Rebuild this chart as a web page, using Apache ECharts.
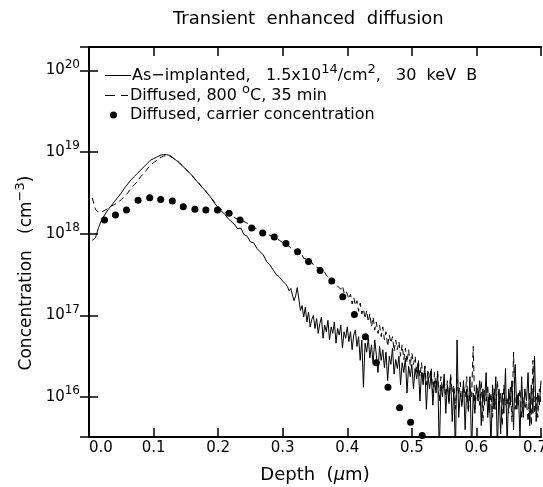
<!DOCTYPE html>
<html>
<head>
<meta charset="utf-8">
<script src="https://cdn.jsdelivr.net/npm/echarts@6/dist/echarts.min.js"></script>
<style>
    html, body { margin: 0; padding: 0; background: #fff; }
    #tedChart { width: 543px; height: 487px; }
</style>
</head>
<body>
<div id="tedChart"></div>
<script>
// depth grid (um) shared by the two SIMS profiles, finer where the tail gets noisy
var depth = [
    0.005, 0.010, 0.015, 0.020, 0.025, 0.030, 0.035, 0.040, 0.045, 0.050,
    0.055, 0.060, 0.065, 0.070, 0.075, 0.080, 0.085, 0.090, 0.095, 0.100,
    0.105, 0.110, 0.115, 0.120, 0.125, 0.130, 0.135, 0.140, 0.145, 0.150,
    0.155, 0.160, 0.165, 0.170, 0.175, 0.180, 0.185, 0.190, 0.195, 0.200,
    0.205, 0.210, 0.215, 0.220, 0.225, 0.230, 0.235, 0.240, 0.245, 0.250,
    0.255, 0.260, 0.265, 0.270, 0.275, 0.280, 0.285, 0.290, 0.295, 0.300,
    0.3025, 0.3050, 0.3075, 0.3100, 0.3125, 0.3150, 0.3175, 0.3200, 0.3225, 0.3250,
    0.3275, 0.3300, 0.3325, 0.3350, 0.3375, 0.3400, 0.3425, 0.3450, 0.3475, 0.3500,
    0.3525, 0.3550, 0.3575, 0.3600, 0.3625, 0.3650, 0.3675, 0.3700, 0.3725, 0.3750,
    0.3775, 0.3800, 0.3825, 0.3850, 0.3875, 0.3900, 0.3925, 0.3950, 0.3975, 0.4000,
    0.4025, 0.4050, 0.4075, 0.4100, 0.4125, 0.4150, 0.4175, 0.4200, 0.4225, 0.4250,
    0.4275, 0.4300, 0.4325, 0.4350, 0.4375, 0.4400, 0.4425, 0.4450, 0.4475, 0.4500,
    0.4525, 0.4550, 0.4575, 0.4600, 0.4625, 0.4650, 0.4675, 0.4700, 0.4725, 0.4750,
    0.4775, 0.4800, 0.4825, 0.4850, 0.4875, 0.4900, 0.4925, 0.4950, 0.4975, 0.5000,
    0.5025, 0.5050, 0.5075, 0.5100, 0.5125, 0.5150, 0.5175, 0.5200, 0.5225, 0.5250,
    0.5275, 0.5300, 0.5325, 0.5350, 0.5375, 0.5400, 0.5425, 0.5450, 0.5475, 0.5500,
    0.5525, 0.5550, 0.5575, 0.5600, 0.5625, 0.5650, 0.5675, 0.5700, 0.5725, 0.5750,
    0.5775, 0.5800, 0.5825, 0.5850, 0.5875, 0.5900, 0.5925, 0.5950, 0.5975, 0.6000,
    0.6025, 0.6050, 0.6075, 0.6100, 0.6125, 0.6150, 0.6175, 0.6200, 0.6225, 0.6250,
    0.6275, 0.6300, 0.6325, 0.6350, 0.6375, 0.6400, 0.6425, 0.6450, 0.6475, 0.6500,
    0.6525, 0.6550, 0.6575, 0.6600, 0.6625, 0.6650, 0.6675, 0.6700, 0.6725, 0.6750,
    0.6775, 0.6800, 0.6825, 0.6850, 0.6875, 0.6900, 0.6925, 0.6950, 0.6975, 0.7000
];

// log10 of concentration, as-implanted (solid)
var implantLog = [
    17.92, 17.95, 18.08, 18.18, 18.24, 18.30, 18.35, 18.40, 18.45, 18.50,
    18.56, 18.61, 18.66, 18.70, 18.74, 18.78, 18.82, 18.86, 18.90, 18.92,
    18.94, 18.96, 18.97, 18.97, 18.96, 18.93, 18.90, 18.87, 18.83, 18.79,
    18.75, 18.71, 18.66, 18.62, 18.57, 18.53, 18.48, 18.43, 18.37, 18.32,
    18.28, 18.24, 18.19, 18.15, 18.12, 18.06, 18.07, 17.99, 17.97, 17.90,
    17.89, 17.82, 17.78, 17.74, 17.66, 17.62, 17.56, 17.50, 17.47, 17.42,
    17.40, 17.38, 17.35, 17.30, 17.33, 17.25, 17.18, 17.24, 17.34, 17.20,
    17.06, 17.12, 16.98, 17.10, 16.92, 17.04, 16.86, 16.95, 17.00, 16.84,
    16.96, 16.78, 16.90, 16.98, 16.72, 16.88, 16.80, 16.94, 16.70, 16.86,
    16.78, 16.92, 16.66, 16.84, 16.76, 16.88, 16.60, 16.80, 16.72, 16.86,
    16.68, 16.80, 16.58, 16.76, 16.82, 16.62, 16.74, 16.45, 16.70, 16.12,
    16.66, 16.55, 16.72, 16.48, 16.64, 16.40, 16.70, 16.52, 16.30, 16.62,
    16.45, 16.58, 16.36, 16.55, 16.20, 16.50, 16.40, 16.60, 16.28, 16.46,
    16.35, 16.50, 16.15, 16.42, 16.30, 16.48, 16.05, 16.38, 16.25, 16.40,
    16.10, 16.35, 16.22, 16.40, 15.95, 16.30, 16.15, 16.38, 15.85, 16.25,
    16.10, 16.30, 15.90, 16.20, 16.05, 16.32, 15.30, 16.15, 16.00, 16.28,
    15.80, 16.15, 15.95, 16.25, 15.70, 16.10, 15.30, 16.70, 15.75, 16.05,
    15.90, 16.20, 15.60, 16.10, 15.85, 16.25, 15.30, 16.05, 15.80, 16.15,
    15.95, 16.20, 15.65, 16.10, 15.90, 16.30, 15.75, 16.05, 15.40, 16.15,
    15.85, 16.25, 15.35, 16.10, 15.55, 16.05, 15.80, 16.35, 15.40, 16.10,
    15.90, 16.20, 15.60, 16.40, 15.85, 16.05, 15.50, 16.25, 15.75, 16.10,
    15.95, 16.30, 15.65, 16.15, 15.80, 16.50, 15.70, 16.05, 15.90, 16.20
];

// log10 of concentration, diffused 800 C 35 min (dashed)
var diffusedLog = [
    18.44, 18.30, 18.26, 18.27, 18.29, 18.31, 18.34, 18.36, 18.38, 18.42,
    18.46, 18.50, 18.56, 18.60, 18.64, 18.70, 18.74, 18.79, 18.84, 18.87,
    18.90, 18.93, 18.95, 18.96, 18.95, 18.93, 18.90, 18.87, 18.83, 18.79,
    18.75, 18.71, 18.66, 18.62, 18.57, 18.53, 18.48, 18.43, 18.38, 18.33,
    18.30, 18.26, 18.26, 18.24, 18.20, 18.18, 18.16, 18.15, 18.13, 18.10,
    18.08, 18.06, 18.04, 18.02, 18.00, 17.98, 17.96, 17.94, 17.92, 17.89,
    17.88, 17.86, 17.84, 17.85, 17.82, 17.80, 17.81, 17.78, 17.76, 17.75,
    17.73, 17.74, 17.70, 17.68, 17.69, 17.66, 17.64, 17.65, 17.62, 17.60,
    17.59, 17.57, 17.58, 17.54, 17.52, 17.53, 17.49, 17.50, 17.46, 17.44,
    17.45, 17.40, 17.42, 17.36, 17.38, 17.32, 17.36, 17.28, 17.31, 17.26,
    17.20, 17.26, 17.14, 17.22, 17.12, 17.18, 17.05, 17.15, 17.02, 17.08,
    16.96, 17.06, 16.92, 17.02, 16.86, 16.98, 16.82, 16.92, 16.78, 16.88,
    16.74, 16.86, 16.70, 16.80, 16.62, 16.76, 16.66, 16.74, 16.56, 16.70,
    16.58, 16.68, 16.50, 16.64, 16.46, 16.60, 16.42, 16.58, 16.38, 16.54,
    16.40, 16.50, 16.30, 16.46, 16.25, 16.42, 16.20, 16.38, 16.15, 16.34,
    16.22, 16.36, 16.05, 16.30, 16.12, 16.28, 15.95, 16.25, 16.08, 16.22,
    16.00, 16.20, 15.90, 16.28, 16.05, 16.15, 15.85, 16.22, 16.02, 16.18,
    15.88, 16.15, 16.00, 16.25, 15.80, 16.10, 16.00, 16.62, 15.85, 16.05,
    16.12, 15.90, 16.20, 15.70, 16.08, 15.95, 16.15, 15.80, 16.05, 15.75,
    16.10, 15.85, 16.20, 15.90, 16.05, 15.65, 16.15, 15.90, 16.00, 15.80,
    16.12, 15.70, 16.55, 15.85, 16.05, 15.90, 16.10, 15.75, 16.00, 15.85,
    15.95, 15.70, 16.05, 15.65, 16.45, 15.80, 16.00, 15.75, 16.10, 15.90
];

// carrier concentration (spreading resistance), depth and log10
var carrierDepth = [
    0.024, 0.041, 0.058, 0.076, 0.094, 0.111, 0.129, 0.146, 0.164, 0.181,
    0.199, 0.217, 0.234, 0.252, 0.269, 0.287, 0.305, 0.323, 0.340, 0.358,
    0.376, 0.393, 0.411, 0.428, 0.445, 0.463, 0.481, 0.498, 0.516
];
var carrierLog = [
    18.17, 18.23, 18.29, 18.41, 18.44, 18.42, 18.40, 18.33, 18.30, 18.29,
    18.29, 18.25, 18.17, 18.07, 18.01, 17.96, 17.88, 17.78, 17.66, 17.55,
    17.42, 17.23, 17.01, 16.74, 16.42, 16.12, 15.87, 15.69, 15.53
];

var fontName = 'DejaVu Sans';

$ready(function () {
    var chart = echarts.init(document.getElementById('tedChart'), null, {renderer: 'canvas'});

    function toPairs(xs, logs) {
        var out = [];
        for (var i = 0; i < xs.length; i++) {
            out.push([xs[i], Math.pow(10, logs[i])]);
        }
        return out;
    }

    var legendNames = {
        implant: 'As\u2212implanted,   1.5x10{s|14}/cm{s|2},   30  keV  B',
        diffused: 'Diffused, 800 {s|o}C, 35 min',
        carrier: 'Diffused, carrier concentration'
    };
    function legendText(padLeft) {
        return {
            fontFamily: fontName,
            fontSize: 16,
            color: '#000',
            padding: [0, 0, 0, padLeft],
            rich: {
                s: {fontFamily: fontName, fontSize: 13, padding: [0, 0, 12, 0], color: '#000'}
            }
        };
    }
    function legendFmt(name) {
        return legendNames[name];
    }

    var sharedTick = {show: true, inside: true, length: 9, lineStyle: {color: '#000', width: 1.5}};
    var sharedLine = {show: true, lineStyle: {color: '#000', width: 2}};

    var option = {
        backgroundColor: '#fff',
        animation: false,
        title: {
            text: 'Transient  enhanced  diffusion',
            left: 168,
            top: 5,
            textStyle: {fontFamily: fontName, fontSize: 18, fontWeight: 'normal', color: '#000'}
        },
        legend: [{
            data: [{name: 'implant', icon: 'path://M0,0H26V1H0Z'}],
            left: 105, top: 63, padding: 0, itemWidth: 26, itemHeight: 1,
            formatter: legendFmt, textStyle: legendText(-4)
        }, {
            data: [{name: 'diffused', icon: 'path://M0,0H10V1H0Z M16,0H23V1H16Z'}],
            left: 105, top: 83, padding: 0, itemWidth: 23, itemHeight: 1,
            formatter: legendFmt, textStyle: legendText(-3)
        }, {
            data: [{name: 'carrier', icon: 'circle'}],
            left: 110, top: 107, padding: 0, itemWidth: 7, itemHeight: 7,
            formatter: legendFmt, textStyle: legendText(8)
        }],
        grid: {left: 89, right: 2, top: 47, bottom: 50, outerBoundsMode: 'none'},
        xAxis: [{
            type: 'value',
            min: 0,
            max: 0.7,
            interval: 0.1,
            name: 'Depth  ({i|\u03bc}m)',
            nameLocation: 'middle',
            nameGap: 29,
            nameTextStyle: {
                fontFamily: fontName, fontSize: 18, color: '#000',
                rich: {i: {fontFamily: fontName, fontSize: 18, fontStyle: 'italic', color: '#000'}}
            },
            axisLine: sharedLine,
            axisTick: sharedTick,
            splitLine: {show: false},
            axisLabel: {
                fontFamily: fontName, fontSize: 15, color: '#000', margin: 4,
                alignMinLabel: 'left',
                formatter: function (v) {
                    // last label sits against the page edge, nudge it left
                    if (v > 0.69) {
                        return '{r|' + v.toFixed(1) + '}';
                    }
                    return v.toFixed(1);
                },
                rich: {
                    r: {fontFamily: fontName, fontSize: 15, color: '#000', padding: [0, 12, 0, 0]}
                }
            }
        }, {
            type: 'value',
            position: 'top',
            min: 0,
            max: 0.7,
            interval: 0.1,
            axisLine: sharedLine,
            axisTick: sharedTick,
            axisLabel: {show: false},
            splitLine: {show: false}
        }],
        yAxis: [{
            type: 'log',
            min: 3.24e15,
            max: 1.94e20,
            name: '{t|Concentration   (cm}{s|\u22123}{t|)}',
            nameLocation: 'middle',
            nameGap: 37,
            nameRotate: 90,
            nameTextStyle: {
                padding: [0, 62, 0, 0],
                rich: {
                    t: {fontFamily: fontName, fontSize: 17, color: '#000'},
                    s: {fontFamily: fontName, fontSize: 13, color: '#000', padding: [0, 0, 12, 0]}
                }
            },
            axisLine: sharedLine,
            axisTick: sharedTick,
            splitLine: {show: false},
            axisLabel: {
                margin: 9,
                color: '#000',
                formatter: function (v) {
                    var e = Math.log10(v);
                    var r = Math.round(e);
                    if (Math.abs(e - r) > 1e-6) {
                        return '';
                    }
                    return '{b|10}{s|' + r + '}';
                },
                rich: {
                    b: {fontFamily: fontName, fontSize: 15, color: '#000'},
                    s: {fontFamily: fontName, fontSize: 12, color: '#000', padding: [0, 0, 12, 0]}
                }
            }
        }, {
            type: 'log',
            position: 'right',
            min: 3.24e15,
            max: 1.94e20,
            axisLine: sharedLine,
            axisTick: sharedTick,
            axisLabel: {show: false},
            splitLine: {show: false}
        }],
        series: [{
            name: 'implant',
            type: 'line',
            symbol: 'none',
            xAxisIndex: 0,
            yAxisIndex: 0,
            lineStyle: {color: '#000', width: 1},
            itemStyle: {color: '#000'},
            data: toPairs(depth, implantLog)
        }, {
            name: 'diffused',
            type: 'line',
            symbol: 'none',
            xAxisIndex: 0,
            yAxisIndex: 0,
            lineStyle: {color: '#000', width: 1, type: [6, 4]},
            itemStyle: {color: '#000'},
            data: toPairs(depth, diffusedLog)
        }, {
            name: 'carrier',
            type: 'scatter',
            symbol: 'circle',
            symbolSize: 7,
            xAxisIndex: 0,
            yAxisIndex: 0,
            itemStyle: {color: '#000', opacity: 1},
            data: toPairs(carrierDepth, carrierLog)
        }]
    };
    chart.setOption(option);
});

function $ready(fn) {
    if (document.readyState !== 'loading') {
        fn();
    } else {
        document.addEventListener('DOMContentLoaded', fn);
    }
}
</script>
</body>
</html>
